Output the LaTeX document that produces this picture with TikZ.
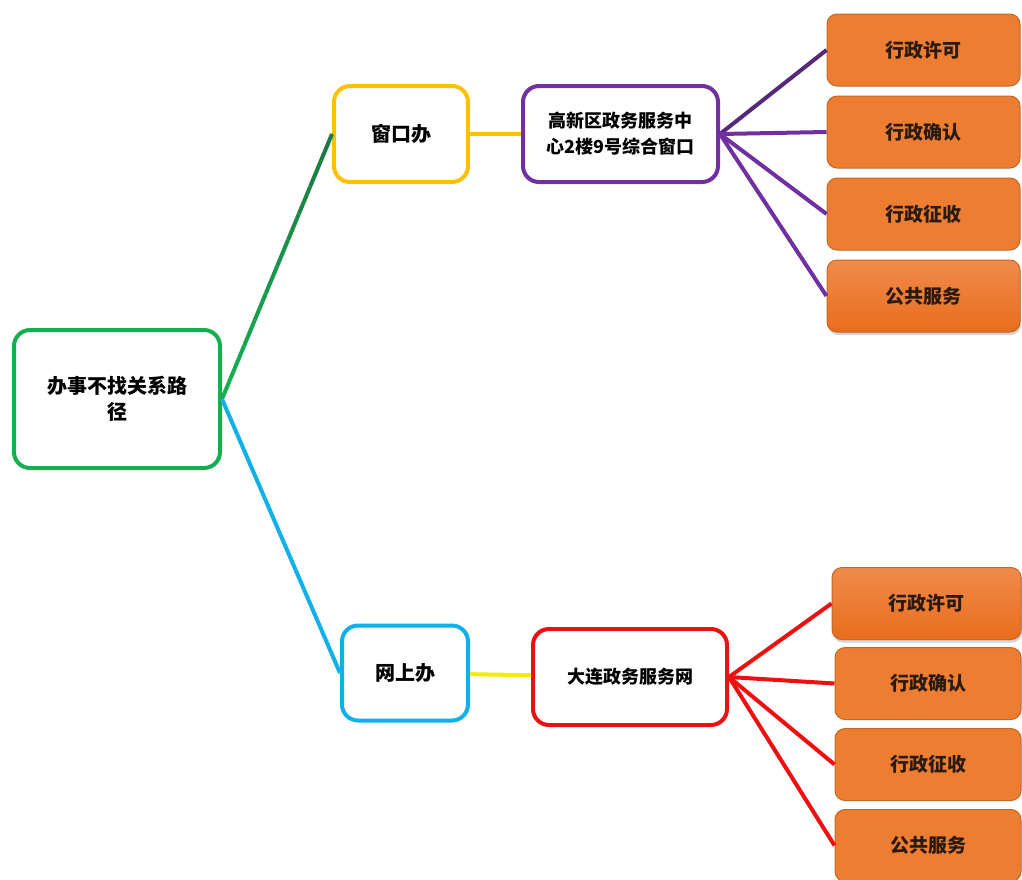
\documentclass[tikz,border=0pt]{standalone}
\usepackage{fontspec}
\newfontfamily\cjk{Noto Sans CJK SC}
\usetikzlibrary{positioning,calc,shadows}
\definecolor{rootgreen}{HTML}{14B050}
\definecolor{darkgreen}{HTML}{1D7540}
\definecolor{winyellow}{HTML}{FFC000}
\definecolor{gxpurple}{HTML}{7030A0}
\definecolor{deeppurple}{HTML}{552878}
\definecolor{netblue}{HTML}{10B0E8}
\definecolor{dlred}{HTML}{EE1010}
\definecolor{linkyellow}{HTML}{F2EE00}
\definecolor{leaforange}{HTML}{ED7D31}
\definecolor{leaflight}{HTML}{F08B4C}
\definecolor{leafdark}{HTML}{E86D1C}
\definecolor{leafedge}{HTML}{C46826}
\definecolor{leaftext}{HTML}{2A1A10}
\tikzset{
box/.style = {draw, fill=white, rectangle, rounded corners=16pt, line width=4pt, align=center, inner sep=2pt, font=\cjk\bfseries\fontsize{20}{26}\selectfont},
leaf/.style = {draw=leafedge, fill=leaforange, rectangle, rounded corners=10pt, line width=1pt, minimum width=193pt, minimum height=72pt, text=leaftext, font=\cjk\bfseries\fontsize{19}{24}\selectfont},
leafhi/.style = {leaf, top color=leaflight, bottom color=leafdark, drop shadow={opacity=0.35, shadow xshift=1pt, shadow yshift=-3pt}},
link/.style = {line width=4pt}
}
\begin{document}
\begin{tikzpicture}[x=1pt, y=-1pt]
    \useasboundingbox (0,0) rectangle (1022,879);

    \node [box, draw=rootgreen, minimum width=206pt, minimum height=138pt] (root) at (117,399) {办事不找关系路\\径};
    \node [box, draw=winyellow, minimum width=134pt, minimum height=96pt] (win) at (401,134) {窗口办};
    \node [box, draw=gxpurple, minimum width=195pt, minimum height=96pt, right=51pt of win,
           font=\cjk\bfseries\fontsize{18}{26}\selectfont] (gx) {高新区政务服务中\\心2楼9号综合窗口};
    \node [box, draw=netblue, minimum width=126pt, minimum height=95pt] (net) at (405,673) {网上办};
    \node [box, draw=dlred, minimum width=194pt, minimum height=96pt,
           font=\cjk\bfseries\fontsize{18}{26}\selectfont] (dl) at (630,677) {大连政务服务网};

    % window branch
    \node [leaf] (wpermit) at (923.5,50) {行政许可};
    \node [leaf, below=9pt of wpermit] (wconfirm) {行政确认};
    \node [leaf, below=9pt of wconfirm] (wlevy) {行政征收};
    \node [leafhi, below=9pt of wlevy] (wpublic) {公共服务};

    % online branch
    \node [leafhi, minimum width=189pt] (npermit) at (926.5,603.5) {行政许可};
    \node [leaf, minimum width=186pt] (nconfirm) at (928,683.5) {行政确认};
    \node [leaf, minimum width=186pt] (nlevy) at (928,764.5) {行政征收};
    \node [leaf, minimum width=186pt] (npublic) at (928,845.5) {公共服务};

    % green line fades to dark green
    \foreach \i in {0,...,9} {
        \pgfmathtruncatemacro\j{\i+1}
        \pgfmathtruncatemacro\p{100-\i*10}
        \draw [link, color=rootgreen!\p!darkgreen] ($(root.east)!\i/10!(win.west)$) -- ($(root.east)!\j/10!(win.west)$);
    }
    \draw [link, netblue] (root.east) -- (net.west);
    \draw [link, winyellow] (win) -- (gx);
    \draw [link, linkyellow] (net) -- (dl);

    \draw [link, deeppurple] (gx.east) -- (wpermit.west);
    \draw [link, gxpurple] (gx.east) -- (wconfirm.west);
    \draw [link, gxpurple] (gx.east) -- (wlevy.west);
    \draw [link, gxpurple] (gx.east) -- (wpublic.west);

    \draw [link, dlred] (dl.east) -- (npermit.west);
    \draw [link, dlred] (dl.east) -- (nconfirm.west);
    \draw [link, dlred] (dl.east) -- (nlevy.west);
    \draw [link, dlred] (dl.east) -- (npublic.west);
\end{tikzpicture}
\end{document}
